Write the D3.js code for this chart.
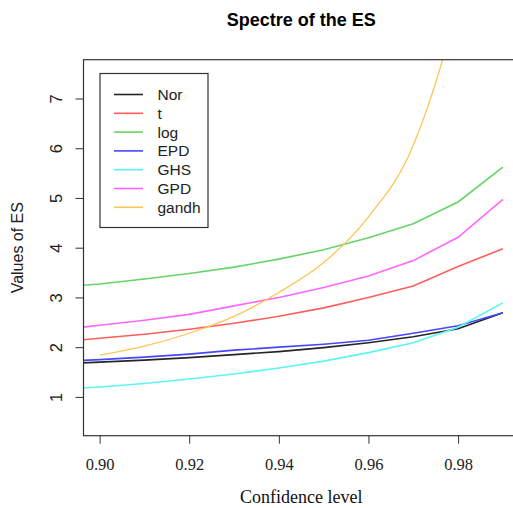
<!DOCTYPE html>
<html><head><meta charset="utf-8">
<script src="https://cdn.jsdelivr.net/npm/d3@7"></script>
<style>body{margin:0;background:#fff}svg{display:block}</style>
</head><body>
<script>
const confLevels = [0.89,0.90,0.91,0.92,0.93,0.94,0.95,0.96,0.97,0.98,0.99];
const seriesNames = ["Nor","t","log","EPD","GHS","GPD","gandh"];
const norVals   = [1.66,1.70,1.74,1.79,1.85,1.91,1.99,2.09,2.21,2.37,2.69];
const tVals     = [2.10,2.18,2.26,2.36,2.48,2.62,2.79,3.00,3.23,3.62,3.98];
const logVals   = [3.20,3.27,3.37,3.48,3.61,3.77,3.96,4.20,4.48,4.92,5.62];
const epdVals   = [1.71,1.75,1.80,1.86,1.94,2.00,2.06,2.14,2.28,2.43,2.69];
const ghsVals   = [1.14,1.20,1.27,1.36,1.46,1.58,1.72,1.89,2.09,2.40,2.89];
const gpdVals   = [2.34,2.44,2.54,2.66,2.83,3.00,3.20,3.43,3.74,4.21,4.97];
const gandhVals = [null,1.84,2.02,2.28,2.62,3.10,3.70,4.62,6.06,9.0,14.0];
const xTicks = [0.90,0.92,0.94,0.96,0.98];
const yTicks = [1,2,3,4,5,6,7];
const colors = ["#262626","#ff5c5c","#66d466","#4646ff","#5cf4f4","#ff66ff","#ffc457"];

const W = 513, H = 508;
const svg = d3.select("body").append("svg").attr("width", W).attr("height", H);
const L = 83.5, R = 519, T = 59.7, B = 435.7;
const x = d3.scaleLinear().domain([0.8964, 0.9936]).range([L, R]);
const y = d3.scaleLinear().domain([0.22, 7.78]).range([B, T]);

svg.append("defs").append("clipPath").attr("id","clip")
  .append("rect").attr("x", L).attr("y", T).attr("width", R - L).attr("height", B - T);

const allVals = [norVals,tVals,logVals,epdVals,ghsVals,gpdVals,gandhVals];
const g = svg.append("g").attr("clip-path","url(#clip)");
allVals.forEach((vals, i) => {
  const pts = confLevels.map((c, j) => ({c, v: vals[j]})).filter(d => d.v != null);
  const line = d3.line().x(d => x(d.c)).y(d => y(d.v));
  if (i === 6) line.curve(d3.curveMonotoneX);
  g.append("path").datum(pts).attr("d", line)
    .attr("fill","none").attr("stroke", colors[i])
    .attr("stroke-width", i === 6 ? 1.3 : 1.6);
});

// frame
svg.append("rect").attr("x", L).attr("y", T).attr("width", R - L).attr("height", B - T)
  .attr("fill","none").attr("stroke","#333").attr("stroke-width",1.2);

// x axis
const xAxis = d3.axisBottom(x).tickValues(xTicks).tickFormat(d3.format(".2f")).tickSize(8).tickSizeOuter(0);
const gx = svg.append("g").attr("transform", `translate(0,${B})`).call(xAxis);
gx.select(".domain").remove();
gx.selectAll("line").attr("stroke","#333");
gx.selectAll("text").attr("font-family","'Liberation Serif', serif").attr("font-size",16.5)
  .attr("fill","#222").attr("dy",null).attr("y",34);

// y axis
const yAxis = d3.axisLeft(y).tickValues(yTicks).tickFormat(d3.format("d")).tickSize(8).tickSizeOuter(0);
const gy = svg.append("g").attr("transform", `translate(${L},0)`).call(yAxis);
gy.select(".domain").remove();
gy.selectAll("line").attr("stroke","#333");
gy.selectAll("text").attr("font-family","'Liberation Sans', Arial, sans-serif").attr("font-size",16.5)
  .attr("fill","#222").attr("x",null).attr("dy",null)
  .attr("text-anchor","middle")
  .attr("transform","translate(-28,0) rotate(-90)").attr("y",0).attr("dominant-baseline","central");

// title and labels
const cx = (L + R) / 2;
svg.append("text").attr("x", cx).attr("y", 26).attr("text-anchor","middle")
  .attr("font-family","'Liberation Sans', Arial, sans-serif").attr("font-weight","bold").attr("font-size",18)
  .text("Spectre of the ES");
svg.append("text").attr("x", cx).attr("y", 503).attr("text-anchor","middle")
  .attr("font-family","'Liberation Serif', serif").attr("font-size",18).attr("fill","#111")
  .text("Confidence level");
svg.append("text").attr("transform", `translate(23,${(T + B) / 2}) rotate(-90)`).attr("text-anchor","middle")
  .attr("font-family","'Liberation Sans', Arial, sans-serif").attr("font-size",16).attr("fill","#222")
  .text("Values of ES");

// legend
const lg = svg.append("g");
lg.append("rect").attr("x",100).attr("y",73.5).attr("width",108).attr("height",154)
  .attr("fill","#fff").attr("stroke","#333").attr("stroke-width",1.2);
seriesNames.forEach((n, i) => {
  const ry = 94.5 + i * 18.8;
  lg.append("line").attr("x1",114).attr("x2",143).attr("y1",ry).attr("y2",ry)
    .attr("stroke", colors[i]).attr("stroke-width",1.6);
  lg.append("text").attr("x",157.5).attr("y",ry).attr("dominant-baseline","central")
    .attr("font-family","'Liberation Sans', Arial, sans-serif").attr("font-size",15.5).attr("fill","#222")
    .text(n);
});
</script>
</body></html>
